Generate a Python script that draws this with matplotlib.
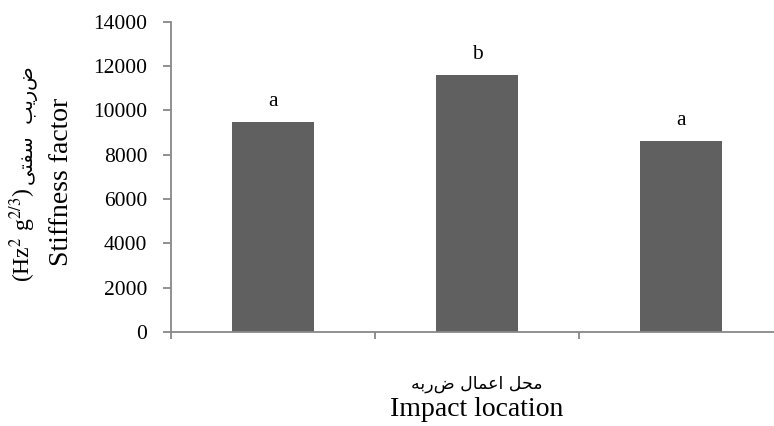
"""
Stiffness factor at three impact locations (bar chart with group letters)
"""
import numpy as np
import matplotlib
matplotlib.use('Agg')
import matplotlib.pyplot as plt

# values
stiffness = [9480, 11600, 8600]    # Hz^2 g^(2/3)
groups = ['a', 'b', 'a']           # significance letters above bars
yticks = [0, 2000, 4000, 6000, 8000, 10000, 12000, 14000]

ylabel_fa = 'ضریب  سفتی'
ylabel_unit = '(Hz$^{2}$ g$^{2/3}$)'
ylabel_en = 'Stiffness factor'
xlabel_fa = 'محل اعمال ضربه'
xlabel_en = 'Impact location'

# matplotlib does no arabic shaping, so the joined forms are picked by hand
# letter: (isolated, final, initial, medial)
# DejaVu's joined forms of zad lose their dot, so zad stays isolated
FORMS = {
    'ض': ('\u0636',),
    'ر': ('\uFEAD', '\uFEAE'),
    'ی': ('\uFBFC', '\uFBFD', '\uFBFE', '\uFBFF'),
    'ب': ('\uFE8F', '\uFE90', '\uFE91', '\uFE92'),
    'س': ('\uFEB1', '\uFEB2', '\uFEB3', '\uFEB4'),
    'ف': ('\uFED1', '\uFED2', '\uFED3', '\uFED4'),
    'ت': ('\uFE95', '\uFE96', '\uFE97', '\uFE98'),
    'م': ('\uFEE1', '\uFEE2', '\uFEE3', '\uFEE4'),
    'ح': ('\uFEA1', '\uFEA2', '\uFEA3', '\uFEA4'),
    'ل': ('\uFEDD', '\uFEDE', '\uFEDF', '\uFEE0'),
    'ا': ('\uFE8D', '\uFE8E'),
    'ع': ('\uFEC9', '\uFECA', '\uFECB', '\uFECC'),
    'ه': ('\uFEE9', '\uFEEA', '\uFEEB', '\uFEEC'),
}
NO_LEFT_JOIN = set('ادذرزژوض')


def shape_fa(text):
    """join persian letters and put them in visual (left to right) order"""
    out = []
    for i, ch in enumerate(text):
        if ch not in FORMS:
            out.append(ch)
            continue
        f = FORMS[ch]
        if len(f) == 1:
            out.append(f[0])
            continue
        prev = text[i - 1] if i > 0 else ' '
        nxt = text[i + 1] if i < len(text) - 1 else ' '
        join_prev = prev in FORMS and prev not in NO_LEFT_JOIN
        join_next = nxt in FORMS and ch not in NO_LEFT_JOIN
        if join_prev and join_next:
            out.append(f[3])
        elif join_prev:
            out.append(f[1])
        elif join_next:
            out.append(f[2])
        else:
            out.append(f[0])
    return ''.join(reversed(out))


plt.rcParams['font.family'] = 'Liberation Serif'
plt.rcParams['mathtext.fontset'] = 'stix'
axcol = '#888888'

W, H = 774, 426
fig = plt.figure(figsize=(W / 100, H / 100), dpi=100)
ax = fig.add_axes([171 / W, 1 - 332 / H, 612 / W, (332 - 21.7) / H])

x = np.arange(len(stiffness))
ax.bar(x, stiffness, width=0.4, color='#606060')
ax.set_xlim(-0.5, len(stiffness) - 0.5)
ax.set_ylim(0, 14000)
ax.set_yticks(yticks)
ax.set_xticks(np.arange(len(stiffness) + 1) - 0.5)
ax.set_xticklabels([])

for s in ['top', 'right']:
    ax.spines[s].set_visible(False)
for s in ['left', 'bottom']:
    ax.spines[s].set_color(axcol)
    ax.spines[s].set_linewidth(1.3)
ax.tick_params(axis='y', length=6, width=1.3, color=axcol, pad=11, labelsize=15.5)
ax.tick_params(axis='x', length=5, width=1.3, color=axcol)

for xi, v, g in zip(x, stiffness, groups):
    ax.annotate(g, (xi, v), xytext=(0, 11.5), textcoords='offset points',
                ha='center', va='baseline', fontsize=15.5)

# y label: two rotated lines, the first one mixes math and persian
fig.text(68 / W, 1 - 182 / H, ylabel_en, rotation=90, rotation_mode='anchor',
         ha='center', va='baseline', fontsize=20)
unit = fig.text(30 / W, 1 - 282 / H, ylabel_unit, rotation=90, rotation_mode='anchor',
                ha='left', va='baseline', fontsize=17)
fig.canvas.draw()
bb = unit.get_window_extent()
fig.text(33 / W, (bb.y1 + 3) / H, shape_fa(ylabel_fa), family='DejaVu Sans',
         rotation=90, rotation_mode='anchor', ha='left', va='baseline', fontsize=14)

# x label: persian line over english line
xc = (171 + 612 / 2) / W
fig.text(xc, 1 - 384 / H, shape_fa(xlabel_fa), family='DejaVu Sans',
         ha='center', va='center', fontsize=12.5)
fig.text(xc, 1 - 409 / H, xlabel_en, ha='center', va='center', fontsize=20)

fig.savefig('out.png', dpi=100)
